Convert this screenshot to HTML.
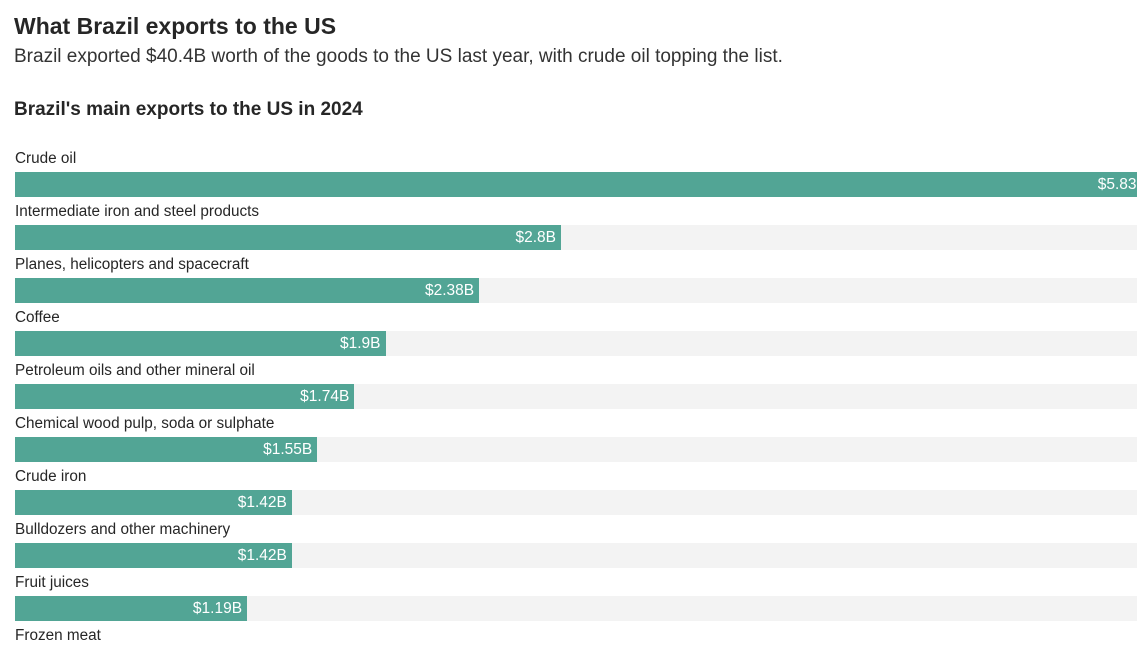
<!DOCTYPE html>
<html><head><meta charset="utf-8"><style>
html,body{margin:0;width:1137px;height:647px;overflow:hidden}
body{background:#fff;font-family:"Liberation Sans",Arial,sans-serif;color:#262626;position:relative}
#title{position:absolute;left:14px;top:13px;font-size:23px;font-weight:bold;margin:0}
#sub{position:absolute;left:14px;top:46px;font-size:19px;color:#333;margin:0;white-space:nowrap}
#ctitle{position:absolute;left:14px;top:99px;font-size:19px;font-weight:bold;margin:0}
.lbl{position:absolute;left:15px;font-size:15.3px;color:#262626;white-space:nowrap}
.track{position:absolute;left:15px;width:1122px;height:25px;background:#f3f3f3}
.bar{position:absolute;left:15px;height:25px;background:#52a595;overflow:hidden}
.val{position:absolute;top:4px;font-size:15.5px;color:#fff;white-space:nowrap}
</style></head><body>
<h1 id="title">What Brazil exports to the US</h1>
<p id="sub">Brazil exported $40.4B worth of the goods to the US last year, with crude oil topping the list.</p>
<h2 id="ctitle">Brazil's main exports to the US in 2024</h2>
<div id="chart"></div>
<script>
const categories=["Crude oil","Intermediate iron and steel products","Planes, helicopters and spacecraft","Coffee","Petroleum oils and other mineral oil","Chemical wood pulp, soda or sulphate","Crude iron","Bulldozers and other machinery","Fruit juices","Frozen meat"];
const values=[5.83,2.8,2.38,1.9,1.74,1.55,1.42,1.42,1.19,0.9];
const valueLabels=["$5.83B","$2.8B","$2.38B","$1.9B","$1.74B","$1.55B","$1.42B","$1.42B","$1.19B","$0.9B"];
const pxPerB=195, top0=149, pitch=53;
const x=v=>v*pxPerB;
const chart=document.getElementById('chart');
categories.forEach((c,i)=>{
  const y=top0+i*pitch;
  const l=document.createElement('div');l.className='lbl';l.style.top=(y+1)+'px';l.textContent=c;
  
  
  chart.appendChild(l);
  const t=document.createElement('div');t.className='track';t.style.top=(y+23)+'px';
  
  
  chart.appendChild(t);
  const b=document.createElement('div');b.className='bar';b.style.top=(y+23)+'px';
  const w=x(values[i]);b.style.width=w+'px';
  
  
  const v=document.createElement('span');v.className='val';v.textContent=valueLabels[i];
  v.style.right='5px';
  
  
  b.appendChild(v);
  chart.appendChild(b);
});
</script>
</body></html>
